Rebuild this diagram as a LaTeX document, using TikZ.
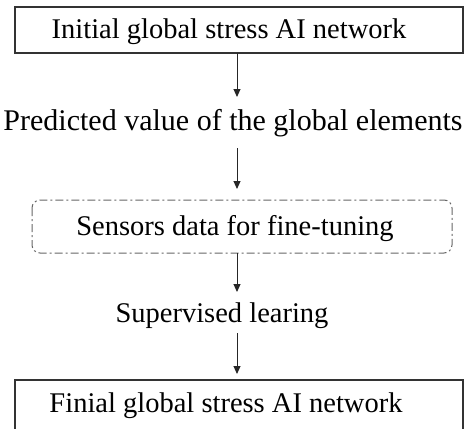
\documentclass[tikz,border=0pt]{standalone}
\usepackage{fontspec}
\setmainfont{Liberation Serif}
\usetikzlibrary{arrows.meta}
\begin{document}
\begin{tikzpicture}[x=1pt,y=-1pt,
  label/.style={font=\fontsize{28.5}{30}\selectfont, inner sep=0pt, anchor=base},
  widelabel/.style={label, font=\fontsize{30}{32}\selectfont},
  solidbox/.style={draw=black!80, line width=1.5pt},
  dashbox/.style={draw=black!60, line width=1pt, rounded corners=8pt,
    dash pattern=on 8pt off 3pt on 2pt off 3pt},
  flow/.style={draw=black!85, line width=1pt, -{Triangle[length=8pt,width=7pt]}}]
  \useasboundingbox (0,0) rectangle (465,428);
  \clip (0,0) rectangle (465,428);

  % boxes
  \draw[solidbox] (15,7) rectangle (463,53);
  \draw[dashbox] (32,200) rectangle (452,253);
  \draw[solidbox] (15,380) rectangle (463,460);

  % texts
  \node[label] (init) at (229,39) {Initial global stress AI network};
  \node[widelabel] (pred) at (233,130) {Predicted value of the global elements};
  \node[label] (sens) at (235,235) {Sensors data for fine-tuning};
  \node[label] (sup)  at (222,322) {Supervised learing};
  \node[label] (fin)  at (226,412) {Finial global stress AI network};

  % connector end points
  \coordinate (a1) at (237,53);  \coordinate (b1) at (237,97);
  \coordinate (a2) at (237,148); \coordinate (b2) at (237,189);
  \coordinate (a3) at (237,253); \coordinate (b3) at (237,292);
  \coordinate (a4) at (237,333); \coordinate (b4) at (237,374);

  \draw[flow] (a1) -- (b1);
  \draw[flow] (a2) -- (b2);
  \draw[flow] (a3) -- (b3);
  \draw[flow] (a4) -- (b4);
\end{tikzpicture}
\end{document}
